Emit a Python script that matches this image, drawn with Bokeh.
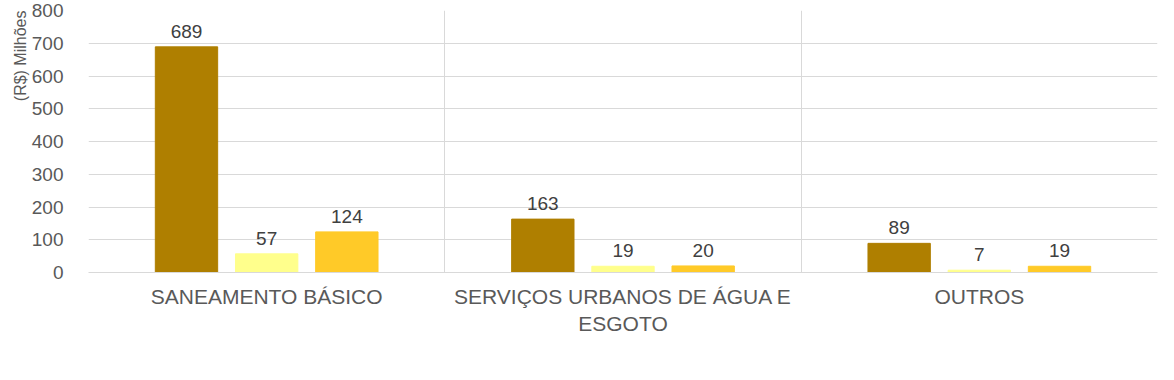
from bokeh.plotting import figure
from bokeh.models import (ColumnDataSource, FixedTicker, Legend, LegendItem, Title, Range1d,
                          LinearAxis)
from bokeh.transform import dodge
from bokeh.core.properties import value
from bokeh.embed import file_html
from bokeh.resources import INLINE

categories = ["SANEAMENTO BÁSICO", "SERVIÇOS URBANOS DE ÁGUA E\nESGOTO", "OUTROS"]
inscricao = [689, 163, 89]
cancelados = [57, 19, 7]
pagos = [124, 20, 19]
series_names = ["Soma de INSCRIÇÃO", "Soma de CANCELADOS", "Soma de PAGOS"]
colors = ["#AF7F00", "#FFFF8C", "#FFCA28"]
y_ticks = [0, 100, 200, 300, 400, 500, 600, 700, 800]

FONT = "Liberation Sans"
TXT = "#595959"
xs = [i + 0.5 for i in range(len(categories))]
src = ColumnDataSource(dict(x=xs, a=inscricao, b=cancelados, c=pagos,
                            la=[str(v) for v in inscricao],
                            lb=[str(v) for v in cancelados],
                            lc=[str(v) for v in pagos]))

p = figure(frame_width=1069, frame_height=262, output_backend="svg", toolbar_location=None,
           x_range=Range1d(0, 3), y_range=Range1d(0, 800),
           min_border_left=88, min_border_right=1, min_border_top=10, min_border_bottom=0)
p.outline_line_color = None
p.background_fill_color = "white"

off = 0.225
w = 0.175
keys = ["a", "b", "c"]
lkeys = ["la", "lb", "lc"]
items = []
for i, (k, lk) in enumerate(zip(keys, lkeys)):
    d = (i - 1) * off
    r = p.vbar(x=dodge("x", d), top=k, width=w, source=src, fill_color=colors[i],
               line_color=colors[i])
    p.text(x=dodge("x", d), y=k, text=lk, source=src, text_align="center",
           text_baseline="bottom", y_offset=-9, text_font=value(FONT),
           text_font_size="19px", text_color="#404040")
    items.append(LegendItem(label=series_names[i], renderers=[r]))

p.yaxis.ticker = FixedTicker(ticks=y_ticks)
p.yaxis.axis_line_color = None
p.yaxis.major_tick_line_color = None
p.yaxis.minor_tick_line_color = None
p.yaxis.major_label_text_font = FONT
p.yaxis.major_label_text_font_size = "19px"
p.yaxis.major_label_text_color = TXT
p.yaxis.major_label_standoff = 19

# split category labels into lines: line 1 on the main axis, line 2 on a second axis
split = [c.split("\n") for c in categories]
line1 = {x: s[0] for x, s in zip(xs, split)}
line2 = {x: s[1] for x, s in zip(xs, split) if len(s) > 1}

p.xaxis.ticker = FixedTicker(ticks=xs)
p.xaxis.major_label_overrides = line1
p.xaxis.axis_line_color = "#D9D9D9"
p.xaxis.major_tick_line_color = None
p.xaxis.minor_tick_line_color = None
p.xaxis.major_tick_out = 0
p.xaxis.major_label_text_font = FONT
p.xaxis.major_label_text_font_size = "21px"
p.xaxis.major_label_text_color = TXT
p.xaxis.major_label_standoff = 12

ax2 = LinearAxis(ticker=FixedTicker(ticks=list(line2.keys())),
                 major_label_overrides=line2, axis_line_color=None,
                 major_tick_line_color=None, minor_tick_line_color=None,
                 major_tick_out=0, minor_tick_out=0, major_label_standoff=1,
                 major_label_text_font=FONT, major_label_text_font_size="21px",
                 major_label_text_color=TXT)
p.add_layout(ax2, "below")

p.ygrid.ticker = FixedTicker(ticks=y_ticks)
p.ygrid.grid_line_color = "#D9D9D9"
p.xgrid.ticker = FixedTicker(ticks=[0, 1, 2, 3])
p.xgrid.grid_line_color = "#D9D9D9"

p.add_layout(Title(text="(R$) Milhões", align="right", text_font=FONT,
                   text_font_size="16px", text_color=TXT,
                   text_font_style="normal", standoff=0), "left")

legend = Legend(items=items, orientation="horizontal", location="center",
                padding=0, margin=3, spacing=38, glyph_width=11, glyph_height=11,
                label_standoff=5, label_text_font=FONT, label_text_font_size="19px",
                label_text_color=TXT, border_line_color=None,
                background_fill_alpha=0)
p.add_layout(legend, "below")

open("out.html", "w").write(file_html(p, INLINE))
